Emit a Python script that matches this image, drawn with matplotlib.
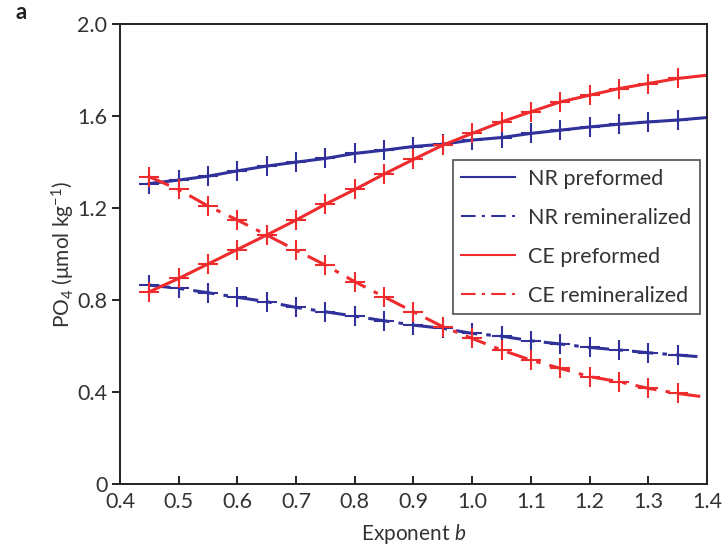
import numpy as np
import matplotlib
matplotlib.use('Agg')
from matplotlib import pyplot as plt

plt.rcParams['font.family'] = ['Lato', 'DejaVu Sans']
plt.rcParams['mathtext.fontset'] = 'custom'
plt.rcParams['mathtext.rm'] = 'Lato'
plt.rcParams['mathtext.it'] = 'Lato:italic'

# exponent b
b = [0.45, 0.50, 0.55, 0.60, 0.65, 0.70, 0.75, 0.80, 0.85, 0.90,
     0.95, 1.00, 1.05, 1.10, 1.15, 1.20, 1.25, 1.30, 1.35, 1.40]

nr_pre = [1.307, 1.322, 1.339, 1.362, 1.383, 1.400, 1.416, 1.438, 1.452, 1.468,
          1.478, 1.496, 1.507, 1.525, 1.539, 1.553, 1.565, 1.575, 1.583, 1.594]
nr_remin = [0.865, 0.851, 0.832, 0.812, 0.793, 0.768, 0.749, 0.730, 0.710, 0.691,
            0.677, 0.655, 0.643, 0.623, 0.609, 0.594, 0.583, 0.571, 0.561, 0.551]
ce_pre = [0.836, 0.894, 0.957, 1.020, 1.083, 1.148, 1.217, 1.281, 1.348, 1.412,
          1.474, 1.525, 1.575, 1.619, 1.662, 1.691, 1.720, 1.742, 1.764, 1.778]
ce_remin = [1.336, 1.281, 1.209, 1.148, 1.083, 1.017, 0.952, 0.880, 0.814, 0.749,
            0.684, 0.633, 0.583, 0.539, 0.503, 0.467, 0.445, 0.416, 0.394, 0.377]

blue = '#30319a'
red = '#ef2b2d'
txt = '#333333'
dashdot = (0, (7, 3, 1.5, 3))

fig = plt.figure(figsize=(7.27, 5.5), dpi=100)
ax = fig.add_axes([0.165, 0.12, 0.8075, 0.836])

series = [
    (nr_pre, blue, '-', 'NR preformed'),
    (nr_remin, blue, dashdot, 'NR remineralized'),
    (ce_pre, red, '-', 'CE preformed'),
    (ce_remin, red, dashdot, 'CE remineralized'),
]
handles = []
for y, c, ls, lab in series:
    ax.plot(b, y, color=c, ls=ls, lw=2.2, marker='+', markersize=15,
            markeredgewidth=1.5, markevery=slice(0, len(b) - 1))
    h, = ax.plot([], [], color=c, ls=ls, lw=1.5, label=lab)
    handles.append(h)

ax.set_xlim(0.4, 1.4)
ax.set_ylim(0, 2.0)
ax.set_xticks(np.arange(0.4, 1.41, 0.1))
ax.set_xticklabels(['0.4', '0.5', '0.6', '0.7', '0.8', '0.9', '1.0', '1.1', '1.2', '1.3', '1.4'])
ax.set_yticks([0, 0.4, 0.8, 1.2, 1.6, 2.0])
ax.set_yticklabels(['0', '0.4', '0.8', '1.2', '1.6', '2.0'])
ax.tick_params(axis='x', direction='in', length=6, width=1.2, labelsize=15.5,
               labelcolor=txt, pad=6)
ax.tick_params(axis='y', direction='out', length=6, width=1.2, labelsize=15.5,
               labelcolor=txt, pad=3)
for s in ax.spines.values():
    s.set_linewidth(1.4)
    s.set_color('#222222')

ax.set_xlabel('Exponent $b$', fontsize=15, color=txt, labelpad=7)
ax.set_ylabel('PO$_4$ (μmol kg$^{-1}$)', fontsize=15, color=txt, labelpad=0)

leg = ax.legend(handles=handles, loc='upper right', bbox_to_anchor=(0.988, 0.704),
                borderaxespad=0, fontsize=15.5, frameon=True, fancybox=False,
                handlelength=2.5, handletextpad=0.6, labelspacing=0.88,
                borderpad=0.4)
leg.get_frame().set_edgecolor('#222222')
leg.get_frame().set_linewidth(1.2)
for t in leg.get_texts():
    t.set_color(txt)

fig.text(0.022, 0.965, 'a', fontsize=16, fontweight='bold', color='#222222')

fig.savefig('out.png', dpi=100)
